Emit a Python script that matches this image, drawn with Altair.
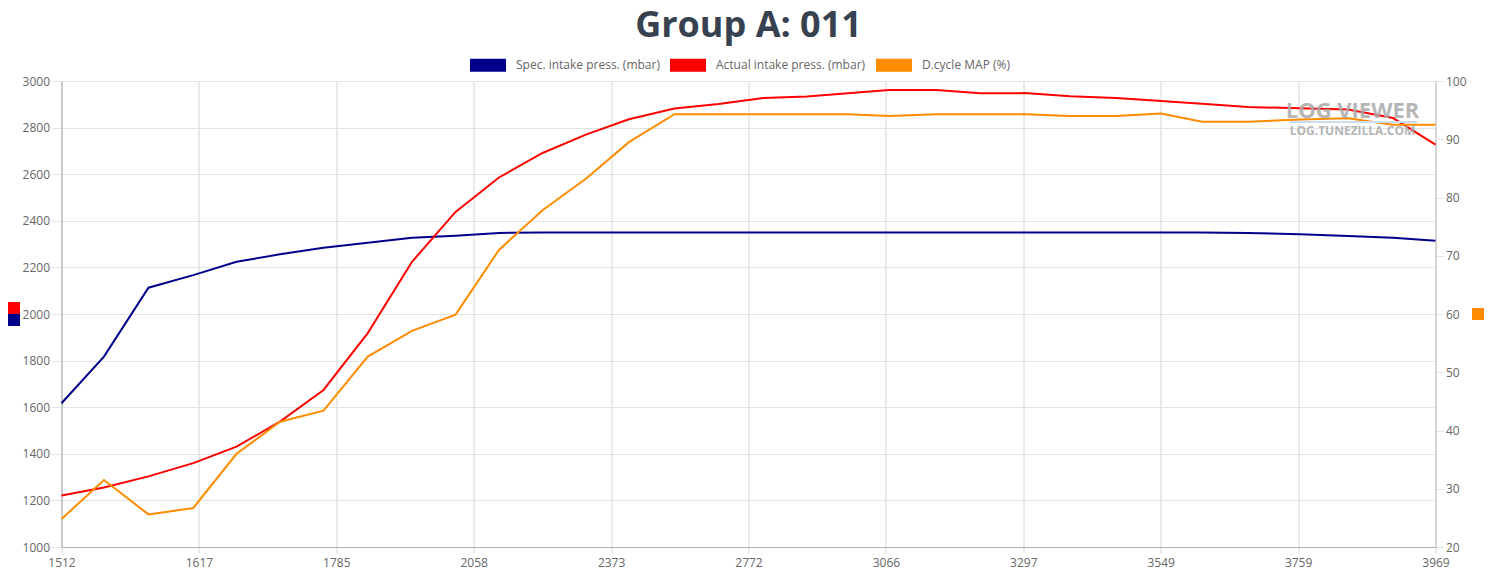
import json
import altair as alt
import pandas as pd

title_text = "Group A: 011"
series_names = ["Spec. intake press. (mbar)", "Actual intake press. (mbar)", "D.cycle MAP (%)"]
series_colors = ["#00008b", "#ff0000", "#ff8c00"]
x_tick_labels = ["1512", "1617", "1785", "2058", "2373", "2772", "3066", "3297", "3549", "3759", "3969"]

# sample positions along the log (in tick units)
sample_time = [0.0, 0.309, 0.633, 0.959, 1.274, 1.590, 1.907, 2.229, 2.551, 2.868,
               3.184, 3.501, 3.821, 4.130, 4.461, 4.782, 5.109, 5.426, 5.724, 6.023,
               6.368, 6.685, 7.012, 7.340, 7.675, 8.002, 8.301, 8.635, 9.014, 9.363,
               9.691, 10.0]

spec_intake = [1617, 1817, 2113, 2167, 2224, 2256, 2284, 2306, 2327, 2336,
               2348, 2350, 2350, 2350, 2350, 2350, 2350, 2350, 2350, 2350,
               2350, 2350, 2350, 2350, 2350, 2350, 2350, 2348, 2342, 2335,
               2327, 2314]

actual_intake = [1221, 1255, 1303, 1360, 1431, 1538, 1674, 1918, 2224, 2438,
                 2586, 2691, 2771, 2836, 2882, 2901, 2927, 2934, 2947, 2961,
                 2961, 2947, 2948, 2935, 2927, 2914, 2902, 2888, 2883, 2878,
                 2841, 2727]

dcycle_map = [24.8, 31.5, 25.6, 26.7, 36.0, 41.5, 43.4, 52.7, 57.1, 59.9,
              71.0, 77.8, 83.3, 89.5, 94.3, 94.3, 94.3, 94.3, 94.3, 94.0,
              94.3, 94.3, 94.3, 94.0, 94.0, 94.4, 93.0, 93.0, 93.4, 93.6,
              92.5, 92.5]

rows = []
for t, s, a, d in zip(sample_time, spec_intake, actual_intake, dcycle_map):
    rows.append({"t": t, "series": series_names[0], "value": s})
    rows.append({"t": t, "series": series_names[1], "value": a})
    rows.append({"t": t, "series": series_names[2], "value": d})
df = pd.DataFrame(rows)

FONT = "Open Sans"
LABEL = "#666666"

label_expr = json.dumps(x_tick_labels) + "[round(datum.value)]"

x_enc = alt.X(
    "t:Q",
    scale=alt.Scale(domain=[0, 10], nice=False, zero=False),
    axis=alt.Axis(
        values=list(range(11)), labelExpr=label_expr, labelFlush=False,
        title="RPM", titleFont=FONT, titleFontSize=12, titleColor=LABEL,
        titleFontWeight="normal", titlePadding=12,
        labelFont=FONT, labelFontSize=12, labelColor=LABEL, labelPadding=4,
        tickSize=6, tickColor="#d6d6d6", gridColor="#d6d6d6",
        domainColor="#b0b0b0",
    ),
)

color_enc = alt.Color(
    "series:N",
    scale=alt.Scale(domain=series_names, range=series_colors),
    legend=alt.Legend(
        orient="none", legendX=408.5, legendY=-34, direction="horizontal",
        title=None, padding=0,
        symbolType="M-1,-0.361L1,-0.361L1,0.361L-1,0.361Z", symbolSize=1296,
        symbolStrokeWidth=0, labelFont=FONT, labelFontSize=12, labelColor=LABEL,
        labelOffset=10, columnPadding=10, symbolOpacity=1,
    ),
)

base = alt.Chart(df).encode(x=x_enc, color=color_enc)

left = base.transform_filter(
    alt.FieldOneOfPredicate(field="series", oneOf=series_names[:2])
).mark_line(strokeWidth=2).encode(
    y=alt.Y("value:Q", scale=alt.Scale(domain=[1000, 3000], nice=False, zero=False),
            axis=alt.Axis(orient="left", values=list(range(1000, 3001, 200)), title=None,
                          format="d",
                          labelFont=FONT, labelFontSize=12, labelColor=LABEL,
                          tickSize=10, tickColor="#e3e3e3", gridColor="#e3e3e3",
                          domainColor="#b0b0b0", labelPadding=2))
)

right = base.transform_filter(
    alt.FieldEqualPredicate(field="series", equal=series_names[2])
).mark_line(strokeWidth=2).encode(
    y=alt.Y("value:Q", scale=alt.Scale(domain=[20, 100], nice=False, zero=False),
            axis=alt.Axis(orient="right", values=list(range(20, 101, 10)), title=None,
                          format="d",
                          labelFont=FONT, labelFontSize=12, labelColor=LABEL,
                          tickSize=8, tickColor="#e3e3e3", gridColor="#e3e3e3",
                          domainColor="#c8c8c8", labelPadding=2))
)

# invisible filled points so the legend swatches are filled boxes
legend_fill = alt.Chart(df).mark_point(filled=True, opacity=0, size=1).encode(
    x=x_enc, color=color_enc, y=alt.value(0))

one = alt.Data(values=[{"k": 1}])

sq_red = alt.Chart(one).mark_square(size=144, filled=True, opacity=1).encode(
    x=alt.value(-47.5), y=alt.value(227), color=alt.value("#ff0000"))
sq_blue = alt.Chart(one).mark_square(size=144, filled=True, opacity=1).encode(
    x=alt.value(-47.5), y=alt.value(239), color=alt.value("#00008b"))
sq_orange = alt.Chart(one).mark_square(size=144, filled=True, opacity=1).encode(
    x=alt.value(1416.5), y=alt.value(233), color=alt.value("#ff8c00"))

wm_line = alt.Chart(one).mark_rule(color="#c9dcf0", strokeWidth=2).encode(
    x=alt.value(1228), x2=alt.value(1356), y=alt.value(41))
wm1 = alt.Chart(one).mark_text(font=FONT, fontSize=22, fontWeight="bold",
                               color="#aaaaaa", opacity=0.85, baseline="alphabetic",
                               align="center").encode(
    x=alt.value(1291), y=alt.value(37), text=alt.value("LOG VIEWER"))
wm2 = alt.Chart(one).mark_text(font=FONT, fontSize=12, fontWeight="bold",
                               color="#aaaaaa", opacity=0.85, baseline="alphabetic",
                               align="center").encode(
    x=alt.value(1291), y=alt.value(54), text=alt.value("LOG.TUNEZILLA.COM"))

chart = alt.layer(left, right, legend_fill, sq_red, sq_blue, sq_orange, wm_line, wm1, wm2).resolve_scale(
    y="independent"
).properties(
    width=1374, height=466,
    autosize=alt.AutoSizeParams(type="none"),
    padding={"left": 53.5, "top": 73, "right": 48, "bottom": 27},
    title=alt.TitleParams(title_text, font=FONT, fontSize=36, fontWeight="bold",
                          color="#37414f", anchor="middle", offset=2),
).configure_view(stroke=None).configure(background="white")

chart.save("out.html", embed_options={"renderer": "svg", "actions": False})
